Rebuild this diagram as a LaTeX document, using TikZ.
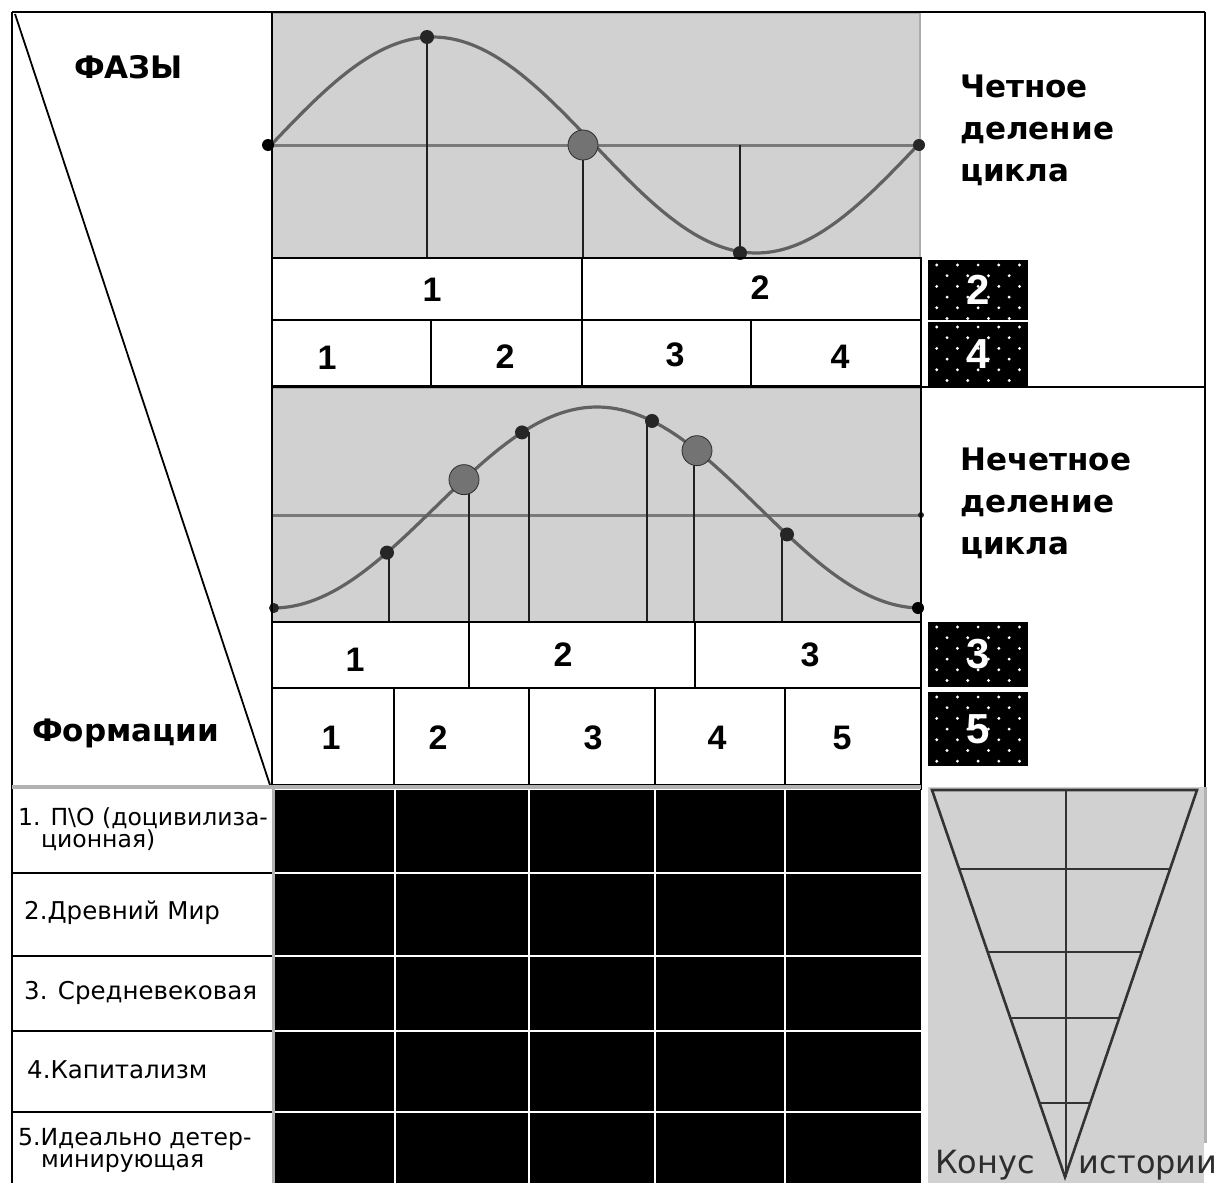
\documentclass[tikz,border=0pt]{standalone}
\usepackage{fontspec}
\setmainfont{DejaVu Sans}
\newfontfamily\numfam{Liberation Sans}
\definecolor{speck}{gray}{0.82}
\definecolor{curvec}{gray}{0.38}
\definecolor{axisc}{gray}{0.48}
\definecolor{dotc}{gray}{0.45}
\begin{document}
\begin{tikzpicture}[x=1pt,y=-1pt,
  declare function={sinwave(\t)=145-108*sin((\t-271)/647*360); bellwave(\t)=608-201*(1-cos((\t-273)/648*360))/2;},
  panel/.style={fill=speck,draw=gray!65,line width=1.2pt},
  curve/.style={draw=curvec,line width=3.2pt},
  axisline/.style={draw=axisc,line width=3pt},
  drop/.style={draw=gray!25!black,line width=1.3pt},
  gridline/.style={draw=black,line width=1.8pt},
  bigdot/.style={fill=dotc,draw=gray!35!black,line width=0.8pt},
  smalldot/.style={fill=gray!30!black},
  num/.style={font=\numfam\bfseries\fontsize{34}{34}\selectfont,inner sep=0pt},
  badgenum/.style={font=\numfam\bfseries\fontsize{42}{42}\selectfont,text=white,inner sep=0pt},
  head/.style={font=\bfseries\fontsize{31}{42}\selectfont,align=left,inner sep=0pt,anchor=north west},
  rowlabel/.style={font=\fontsize{24.5}{22}\selectfont,align=left,inner sep=0pt,anchor=west},
  conel/.style={draw=gray!40!black,line width=2.6pt},
  whiteline/.style={draw=white,line width=2.5pt}]
\useasboundingbox (0,0) rectangle (1231,1183);
\fill[white] (0,0) rectangle (1231,1183);

% ---------- even division panel ----------
\path[panel] (272,13) rectangle (920,258);
\draw[axisline] (272,145) -- (920,145);
\draw[drop] (427,37) -- (427,258);
\draw[drop] (583,145) -- (583,258);
\draw[drop] (740,145) -- (740,253);
\draw[curve] plot[domain=271:918,samples=140] (\x,{sinwave(\x)});
\fill[smalldot] (427,37) circle (7pt);
\filldraw[bigdot] (583,145) circle (15pt);
\fill[smalldot] (740,253) circle (7pt);
\fill[black] (268,145) circle (6pt);
\fill[gray!30!black] (919,145) circle (6pt);

\draw[gridline] (272,258) rectangle (921,386);
\draw[gridline] (272,320) -- (921,320);
\draw[gridline] (582,258) -- (582,386);
\draw[gridline] (431,320) -- (431,386);
\draw[gridline] (751,320) -- (751,386);
\node[num] (ea1) at (432,290) {1};
\node[num] (ea2) at (760,288) {2};
\node[num] (eb1) at (327,358) {1};
\node[num] (eb2) at (505,357) {2};
\node[num] (eb3) at (675,355) {3};
\node[num] (eb4) at (840,357) {4};

\node[head] (even) at (960,75) {Четное\\деление\\цикла};

% ---------- badges ----------
\foreach \bx/\by/\bh/\lab/\nm in {928/260/60/2/bdg2, 928/322/64/4/bdg4, 928/622/65/3/bdg3, 928/692/74/5/bdg5}{
  \fill[black] (\bx,\by) rectangle ++(100,\bh);
  \begin{scope}
    \clip (\bx,\by) rectangle ++(100,\bh);
    \foreach \r in {0,...,7}{
      \foreach \c in {0,...,5}{
        \fill[white] ({\bx+8.7+\c*20.7+mod(\r,2)*10.35},{\by+5+\r*10.7}) circle (1.6pt);
      }
    }
  \end{scope}
  \node[badgenum] (\nm) at ({\bx+50},{\by+\bh/2}) {\lab};
}

% ---------- odd division panel ----------
\path[panel] (272,388) rectangle (921,622);
\draw[axisline] (272,515) -- (921,515);
\fill[gray!30!black] (921,515) circle (3pt);
\draw[drop] (389,{bellwave(389)}) -- (389,622);
\draw[drop] (469,{bellwave(464)}) -- (469,622);
\draw[drop] (529,{bellwave(522)}) -- (529,622);
\draw[drop] (647,{bellwave(652)}) -- (647,622);
\draw[drop] (694,{bellwave(697)}) -- (694,622);
\draw[drop] (782,{bellwave(787)}) -- (782,622);
\draw[curve] plot[domain=273:919,samples=140] (\x,{bellwave(\x)});
\fill[smalldot] (387,{bellwave(387)}) circle (7pt);
\filldraw[bigdot] (464,{bellwave(464)}) circle (15pt);
\fill[smalldot] (522,{bellwave(522)}) circle (7pt);
\fill[smalldot] (652,{bellwave(652)}) circle (7pt);
\filldraw[bigdot] (697,{bellwave(697)}) circle (15pt);
\fill[smalldot] (787,{bellwave(787)}) circle (7pt);
\fill[gray!30!black] (274,608) circle (5pt);
\fill[black] (918,608) circle (6pt);

\draw[gridline] (272,622) rectangle (921,785);
\draw[gridline] (272,688) -- (921,688);
\draw[gridline] (469,622) -- (469,688);
\draw[gridline] (695,622) -- (695,688);
\draw[gridline] (394,688) -- (394,785);
\draw[gridline] (529,688) -- (529,785);
\draw[gridline] (655,688) -- (655,785);
\draw[gridline] (785,688) -- (785,785);
\node[num] (oa1) at (355,660) {1};
\node[num] (oa2) at (563,655) {2};
\node[num] (oa3) at (810,655) {3};
\node[num] (ob1) at (331,738) {1};
\node[num] (ob2) at (438,738) {2};
\node[num] (ob3) at (593,738) {3};
\node[num] (ob4) at (717,738) {4};
\node[num] (ob5) at (842,738) {5};

\node[head] (odd) at (960,448) {Нечетное\\деление\\цикла};

% ---------- frame ----------
\draw[gridline] (12,12) -- (1205,12);
\draw[gridline] (12,12) -- (12,1183);
\draw[gridline] (1205,12) -- (1205,787);
\draw[gridline] (272,387) -- (1205,387);
\draw[gridline] (921,258) -- (921,790);
\draw[gridline] (272,12) -- (272,786);
\draw[black,line width=1.8pt] (15,14) -- (270,785);
\node[font=\bfseries\fontsize{31}{31}\selectfont,inner sep=0pt,anchor=north west] (phases) at (74,55) {ФАЗЫ};
\node[font=\bfseries\fontsize{31}{31}\selectfont,inner sep=0pt,anchor=base west] (formations) at (32,741) {Формации};

% ---------- formations table ----------
\fill[black] (275,790) rectangle (921,1183);
\foreach \xx in {395,529,655,785} \draw[whiteline] (\xx,790) -- (\xx,1183);
\foreach \yy in {873,956,1031,1112} \draw[whiteline] (275,\yy) -- (921,\yy);
\foreach \yy in {873,956,1031,1112} \draw[gridline] (12,\yy) -- (272,\yy);
\draw[gray!60,line width=4pt] (12,787) -- (921,787);
\draw[gray!60,line width=3pt] (273,787) -- (273,1183);

\node[rowlabel,font=\fontsize{23.5}{22}\selectfont] (f1) at (18,829) {1. П\textbackslash О (доцивилиза-\\\hspace*{23pt}ционная)};
\node[rowlabel] (f2) at (24,913) {2.Древний Мир};
\node[rowlabel] (f3) at (24,993) {3. Средневековая};
\node[rowlabel] (f4) at (27,1070) {4.Капитализм};
\node[rowlabel,font=\fontsize{23.5}{22}\selectfont] (f5) at (18,1150) {5.Идеально детер-\\\hspace*{23pt}минирующая};

% ---------- cone ----------
\fill[speck] (928,787) rectangle (1204,1183);
\draw[gray!60,line width=3pt] (1205,787) -- (1205,1143);
\draw[conel,line join=miter] (932,790) -- (1197,790) -- (1065,1177) -- cycle;
\draw[conel] (1066,790) -- (1066,1177);
\foreach \yy in {869,952,1018,1103}
  \draw[conel] ({932+(\yy-790)/387*133},\yy) -- ({1197-(\yy-790)/387*132},\yy);
\node[font=\fontsize{32}{32}\selectfont,text=gray!35!black,anchor=base west,inner sep=0pt] (cone) at (935,1173) {Конус\hspace{44pt}истории};
\end{tikzpicture}
\end{document}
